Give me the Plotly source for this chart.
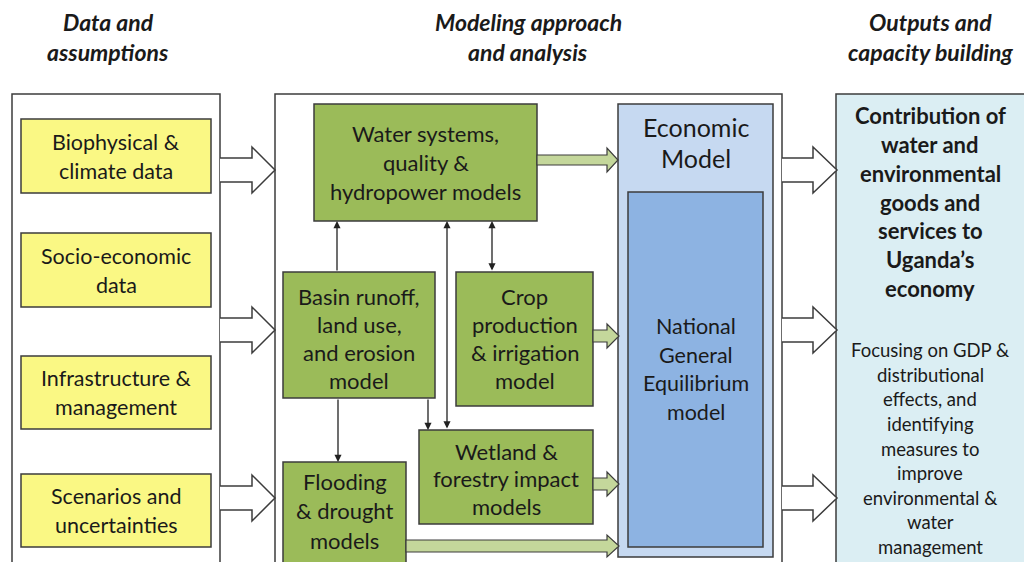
import plotly.graph_objects as go

# ---------------- text content ----------------
header_labels = ["Data and<br>assumptions", "Modeling approach<br>and analysis", "Outputs and<br>capacity building"]
input_labels = ["Biophysical &<br>climate data", "Socio-economic<br>data",
                "Infrastructure &<br>management", "Scenarios and<br>uncertainties"]
model_labels = ["Water systems,<br>quality &<br>hydropower models",
                "Basin runoff,<br>land use,<br>and erosion<br>model",
                "Crop<br>production<br>& irrigation<br>model",
                "Wetland &<br>forestry impact<br>models",
                "Flooding<br>& drought<br>models"]
economic_labels = ["Economic<br>Model", "National<br>General<br>Equilibrium<br>model"]
output_title = "Contribution of<br>water and<br>environmental<br>goods and<br>services to<br>Uganda’s<br>economy"
output_body = ("Focusing on GDP &<br>distributional<br>effects, and<br>identifying<br>measures to<br>improve<br>"
               "environmental &<br>water<br>management")

# ---------------- layout geometry (pixels, y downward) ----------------
FONT = "Lato"
TXT = "#1a1a1a"
EDGE = "#3c3c3c"
YELLOW = "#FAF884"
GREEN = "#9BBB59"
LGREEN = "#C4D79B"
BLUE_OUT = "#C6D9F1"
BLUE_IN = "#8DB3E2"
CYAN = "#DBEEF3"

shapes = []
annotations = []


def rect(x0, y0, x1, y1, fill, lw=1.5, color=EDGE):
    shapes.append(dict(type="rect", xref="x", yref="y", x0=x0, y0=y0, x1=x1, y1=y1,
                       fillcolor=fill, line=dict(color=color, width=lw), layer="below"))


def lines_text(label, xc, yc, pitch, size, bold=False, italic=False):
    parts = label.split("<br>")
    n = len(parts)
    for i, p in enumerate(parts):
        y = yc + (i - (n - 1) / 2) * pitch
        t = p
        if bold:
            t = "<b>" + t + "</b>"
        if italic:
            t = "<i>" + t + "</i>"
        annotations.append(dict(x=xc, y=y, xref="x", yref="y", text=t, showarrow=False,
                                xanchor="center", yanchor="middle",
                                font=dict(family=FONT, size=size, color=TXT)))


def hollow_arrow(x0, xb, xt, yc, sh=12, hh=23):
    path = (f"M {x0},{yc-sh} L {xb},{yc-sh} L {xb},{yc-hh} L {xt},{yc} "
            f"L {xb},{yc+hh} L {xb},{yc+sh} L {x0},{yc+sh}")
    shapes.append(dict(type="path", xref="x", yref="y", path=path, fillcolor="white",
                       line=dict(color=EDGE, width=1.5)))


def green_arrow(x0, xb, xt, yc, sh=6, hh=12):
    path = (f"M {x0},{yc-sh} L {xb},{yc-sh} L {xb},{yc-hh} L {xt},{yc} "
            f"L {xb},{yc+hh} L {xb},{yc+sh} L {x0},{yc+sh} Z")
    shapes.append(dict(type="path", xref="x", yref="y", path=path, fillcolor=LGREEN,
                       line=dict(color=EDGE, width=1.2)))


def thin_arrow(x, y_tail, y_head, both=False):
    a = dict(x=x, y=y_head, ax=x, ay=y_tail, xref="x", yref="y", axref="x", ayref="y",
             text="", showarrow=True, arrowhead=2, arrowsize=1.1, arrowwidth=1.3,
             arrowcolor="#222222", standoff=0, startstandoff=0)
    if both:
        a["arrowside"] = "end+start"
        a["startarrowhead"] = 2
        a["startarrowsize"] = 1.1
    annotations.append(a)


# headers
header_x = [108, 528, 930]
for lab, hx in zip(header_labels, header_x):
    lines_text(lab, hx, 37, 30, 23, bold=True, italic=True)

# containers
rect(12, 94, 220, 600, "white", lw=1.5)
rect(275, 94, 782, 600, "white", lw=1.5)
rect(836, 94, 1040, 600, CYAN, lw=1.5)

# input boxes
input_y = [(119, 193), (233, 307), (356, 429), (474, 547)]
for lab, (y0, y1) in zip(input_labels, input_y):
    rect(21, y0, 211, y1, YELLOW)
    lines_text(lab, 116, (y0 + y1) / 2, 29, 21.5)

# hollow arrows left -> middle
for yc in [170, 330, 498]:
    hollow_arrow(220, 252, 275, yc)
# hollow arrows middle -> outputs
for yc in [170, 330, 498]:
    hollow_arrow(782, 813, 837, yc)

# economic model
rect(618, 104, 773, 557, BLUE_OUT)
rect(628, 192, 763, 547, BLUE_IN)
lines_text(economic_labels[0], 695.5, 142.5, 31, 25)
lines_text(economic_labels[1], 695.5, 369, 28.5, 21.5)

# model boxes
model_geo = [(314, 104, 537, 221), (283, 272, 435, 398), (456, 272, 593, 406),
             (419, 430, 593, 524), (283, 462, 406, 600)]
model_text_y = [162.5, 338.5, 338.5, 478.5, 510.5]
model_pitch = [29, 27.8, 27.8, 27.5, 29.5]
for lab, (x0, y0, x1, y1), ty, pt in zip(model_labels, model_geo, model_text_y, model_pitch):
    rect(x0, y0, x1, y1, GREEN)
    lines_text(lab, (x0 + x1) / 2, ty, pt, 22)

# green arrows to economic model
green_arrow(537, 607, 618, 160, sh=5, hh=12)
green_arrow(593, 607, 619, 336, sh=6, hh=12)
green_arrow(593, 607, 619, 484, sh=6, hh=12)
green_arrow(406, 607, 619, 546, sh=6, hh=11)

# thin connector arrows
thin_arrow(337, 272, 221)
thin_arrow(447, 430, 221, both=True)
thin_arrow(492, 272, 221, both=True)
thin_arrow(428, 398, 430)
thin_arrow(338, 398, 462)

# outputs text
lines_text(output_title, 930, 202, 28.7, 22, bold=True)
lines_text(output_body, 930, 448.5, 24.6, 18.5)

fig = go.Figure()
fig.update_layout(
    width=1024, height=562, autosize=False,
    margin=dict(l=0, r=0, t=0, b=0),
    paper_bgcolor="white", plot_bgcolor="white",
    xaxis=dict(range=[0, 1024], visible=False, fixedrange=True),
    yaxis=dict(range=[562, 0], visible=False, fixedrange=True),
    shapes=shapes, annotations=annotations, showlegend=False,
)
fig.write_html("out.html", config={"displayModeBar": False},
               post_script="document.body.style.margin='0';document.body.style.overflow='hidden';")
